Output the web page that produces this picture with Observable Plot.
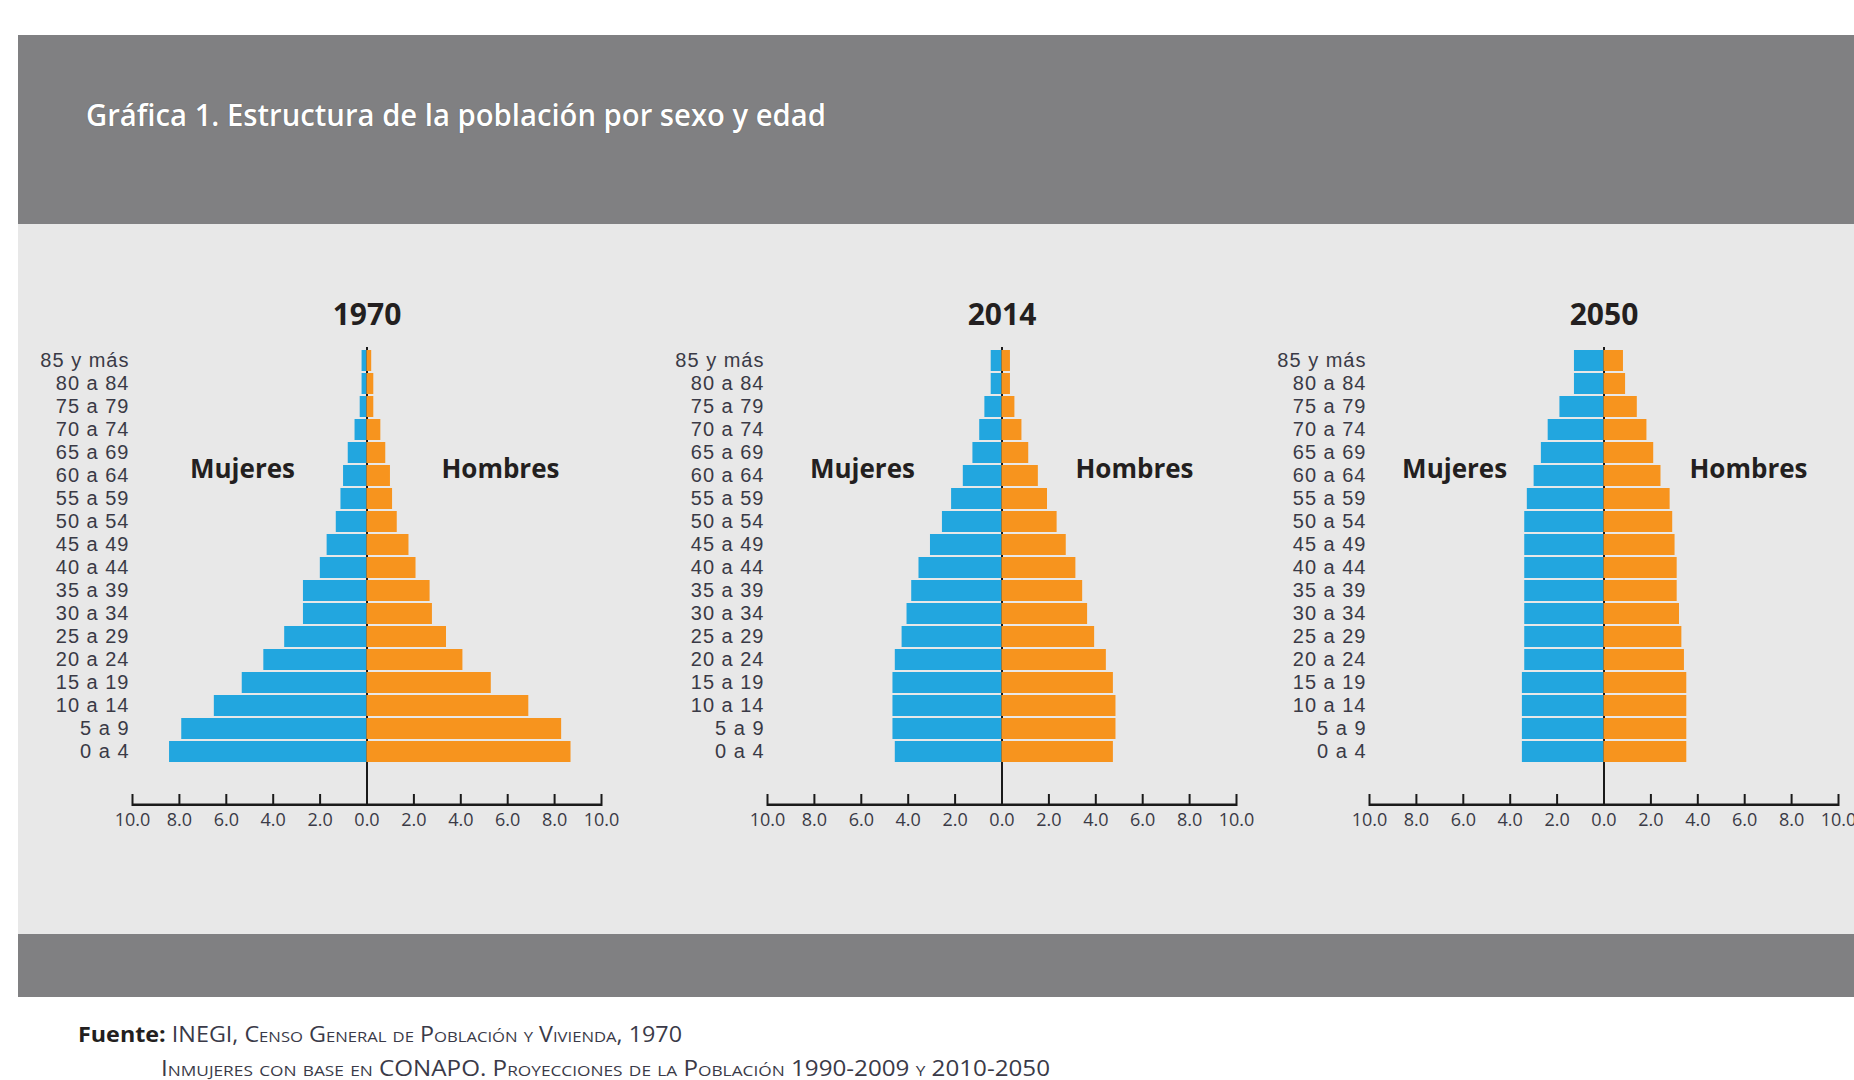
<!DOCTYPE html>
<html lang="es">
<head>
<meta charset="utf-8">
<title>Gráfica 1. Estructura de la población por sexo y edad</title>
<script src="https://cdn.jsdelivr.net/npm/d3@7"></script>
<script src="https://cdn.jsdelivr.net/npm/@observablehq/plot@0.6"></script>
<style>
  html, body { margin: 0; padding: 0; }
  body { width: 1854px; height: 1080px; overflow: hidden; background: #ffffff; position: relative; font-family: "Open Sans", sans-serif; }
  .band { position: absolute; left: 18px; width: 1836px; background: #808082; }
  .panel { position: absolute; left: 18px; width: 1836px; top: 224px; height: 710px; background: #e8e8e8; }
  .fit { position: absolute; white-space: nowrap; transform-origin: left center; line-height: 1; }
  #title { left: 86px; top: 100px; font-size: 30px; font-weight: 600; color: #ffffff; text-shadow: 0 0 1px rgba(60,60,60,0.6); }
  .src { font-size: 21px; color: #3a3a48; }
  .src b { color: #231f20; font-weight: 700; font-variant: normal; }
  .src span { font-variant: small-caps; }
  .pyr { position: absolute; top: 300px; width: 630px; }
  .pyr svg { overflow: visible; max-width: none; }
  .pyr g[aria-label^="x-axis"] text { font-size: 18px; }
  .pyr g[aria-label^="y-axis"] text { font-size: 20px; letter-spacing: 1px; font-family: "Liberation Sans", Arial, sans-serif; }
</style>
</head>
<body>
<div class="band" style="top:35px;height:189px;"></div>
<div class="panel"></div>
<div class="band" style="top:934px;height:63px;"></div>
<div id="title" class="fit">Gráfica 1. Estructura de la población por sexo y edad</div>
<div id="src1" class="fit src" style="left:78px;top:1024px;"><b>Fuente:</b> <span>INEGI, Censo General de Población y Vivienda, 1970</span></div>
<div id="src2" class="fit src" style="left:161px;top:1058px;"><span>Inmujeres con base en CONAPO. Proyecciones de la Población 1990-2009 y 2010-2050</span></div>
<div id="charts"></div>
<script>
// ---- Data, top row first ----
const ages = ["85 y más","80 a 84","75 a 79","70 a 74","65 a 69","60 a 64","55 a 59","50 a 54","45 a 49","40 a 44","35 a 39","30 a 34","25 a 29","20 a 24","15 a 19","10 a 14","5 a 9","0 a 4"];
const years = ["1970", "2014", "2050"];
const mujeres1970 = [0.21,0.21,0.29,0.51,0.80,1.00,1.11,1.31,1.70,1.99,2.71,2.71,3.51,4.40,5.32,6.51,7.90,8.42];
const hombres1970 = [0.20,0.29,0.29,0.59,0.80,1.00,1.09,1.29,1.79,2.09,2.69,2.79,3.39,4.09,5.30,6.90,8.30,8.70];
const mujeres2014 = [0.46,0.46,0.73,0.95,1.24,1.65,2.15,2.54,3.05,3.54,3.85,4.05,4.26,4.55,4.65,4.65,4.65,4.55];
const hombres2014 = [0.36,0.36,0.55,0.85,1.14,1.55,1.94,2.35,2.74,3.15,3.44,3.65,3.95,4.45,4.75,4.86,4.86,4.75];
const mujeres2050 = [1.26,1.26,1.88,2.38,2.67,2.98,3.27,3.38,3.38,3.38,3.38,3.38,3.38,3.38,3.48,3.48,3.48,3.48];
const hombres2050 = [0.83,0.92,1.42,1.83,2.12,2.43,2.82,2.93,3.03,3.12,3.12,3.22,3.32,3.43,3.53,3.53,3.53,3.53];
const xTicks = [-10,-8,-6,-4,-2,0,2,4,6,8,10];
const sexLabels = ["Mujeres", "Hombres"];

// ---- Layout / style ----
const blue = "#22a6df", orange = "#f7941e", ink = "#231f20";
const W = 630, H = 551, ML = 130, MR = 31, MT = 47, MB = 45;
const frameH = H - MT - MB;

const charts = [
  {year: years[0], m: mujeres1970, h: hombres1970, zero: 366.5, lx: [-5.31, 5.69]},
  {year: years[1], m: mujeres2014, h: hombres2014, zero: 1001.5, lx: [-5.95, 5.65]},
  {year: years[2], m: mujeres2050, h: hombres2050, zero: 1603.5, lx: [-6.37, 6.16]}
];

const host = document.getElementById("charts");
for (const c of charts) {
  const rows = ages.map((age, i) => ({age, m: c.m[i], h: c.h[i]}));
  const labels = sexLabels.map((t, i) => ({t, x: c.lx[i]}));
  const svg = Plot.plot({
    width: W, height: H,
    marginLeft: ML, marginRight: MR, marginTop: MT, marginBottom: MB,
    style: {background: "transparent", fontFamily: "Open Sans, sans-serif", color: "#3a3a46", overflow: "visible"},
    x: {domain: [-10, 10], ticks: xTicks, tickSize: 0, tickPadding: 7, tickFormat: d => Math.abs(d).toFixed(1), label: null},
    y: {domain: ages, range: [MT, MT + 418], padding: 0.1, tickSize: 0, tickPadding: 3, label: null},
    marks: [
      Plot.ruleX([0], {stroke: "#1a1a1a", strokeWidth: 2}),
      Plot.barX(rows, {x: d => -d.m, y: "age", fill: blue}),
      Plot.barX(rows, {x: "h", y: "age", fill: orange}),
      Plot.rect([0], {x1: xTicks[0], x2: xTicks[xTicks.length - 1], insetTop: frameH - 2.5, fill: "#1a1a1a"}),
      Plot.ruleX(xTicks, {insetTop: frameH - 12, stroke: "#1a1a1a", strokeWidth: 2}),
      Plot.text(labels, {x: "x", y: () => "60 a 64", text: "t", dy: -6, fontSize: 26, fontWeight: "bold", fill: ink}),
      Plot.text([c.year], {x: () => 0, frameAnchor: "top", dy: -32, text: d => d, fontSize: 30, fontWeight: "bold", fill: ink, lineAnchor: "middle"})
    ]
  });
  const div = document.createElement("div");
  div.className = "pyr";
  div.style.left = (c.zero - ML - (W - ML - MR) / 2) + "px";
  div.appendChild(svg);
  host.appendChild(div);
}

function fit(id, target) {
  const el = document.getElementById(id);
  el.style.transform = "none";
  const w = el.getBoundingClientRect().width;
  el.style.transform = `scaleX(${target / w})`;
}
function fitAll() {
  fit("title", 740);
  fit("src1", 604);
  fit("src2", 889);
}
fitAll();
if (document.fonts && document.fonts.ready) document.fonts.ready.then(fitAll);
</script>
</body>
</html>
